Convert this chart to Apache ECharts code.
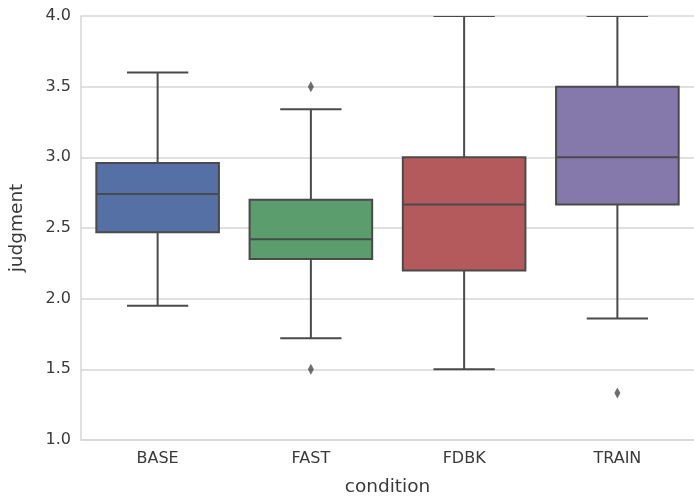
<!DOCTYPE html>
<html>
<head>
<meta charset="utf-8">
<script src="https://cdn.jsdelivr.net/npm/echarts@6/dist/echarts.min.js"></script>
<style>
  html, body { margin: 0; padding: 0; background: #fff; }
  #chart { width: 694px; height: 502px; }
</style>
</head>
<body>
<div id="chart"></div>
<script>
// categories on x
var categories = ['BASE', 'FAST', 'FDBK', 'TRAIN'];
// box stats
var whiskerLow = [1.95, 1.72, 1.5, 1.86];
var q1 = [2.47, 2.28, 2.2, 2.667];
var median = [2.74, 2.42, 2.667, 3.0];
var q3 = [2.96, 2.7, 3.0, 3.5];
var whiskerHigh = [3.6, 3.34, 4.0, 4.0];
// fliers: [category index, value]
var outliers = [[1, 3.5], [1, 1.5], [3, 1.333]];
var boxColors = ['#5470a5', '#5b9d6c', '#b45a5d', '#8479aa'];

var lineColor = '#4a4a4a';
var textColor = '#3a3a3a';
var gridColor = '#d6d6d6';

var boxData = categories.map(function (c, i) {
  return [i, whiskerLow[i], q1[i], median[i], q3[i], whiskerHigh[i]];
});

function renderBox(params, api) {
  var idx = api.value(0);
  var band = api.size([1, 0])[0];
  var boxW = band * 0.8;
  var capW = boxW * 0.5;
  var x = api.coord([idx, 0])[0];
  var yLow = api.coord([idx, api.value(1)])[1];
  var yQ1 = api.coord([idx, api.value(2)])[1];
  var yMed = api.coord([idx, api.value(3)])[1];
  var yQ3 = api.coord([idx, api.value(4)])[1];
  var yHigh = api.coord([idx, api.value(5)])[1];
  var stroke = { stroke: lineColor, lineWidth: 2 };
  return {
    type: 'group',
    children: [
      { type: 'line', shape: { x1: x, y1: yQ1, x2: x, y2: yLow }, style: stroke },
      { type: 'line', shape: { x1: x, y1: yQ3, x2: x, y2: yHigh }, style: stroke },
      { type: 'line', shape: { x1: x - capW / 2, y1: yLow, x2: x + capW / 2, y2: yLow }, style: stroke },
      { type: 'line', shape: { x1: x - capW / 2, y1: yHigh, x2: x + capW / 2, y2: yHigh }, style: stroke },
      {
        type: 'rect',
        shape: { x: x - boxW / 2, y: yQ3, width: boxW, height: yQ1 - yQ3 },
        style: { fill: boxColors[idx], stroke: lineColor, lineWidth: 2 }
      },
      { type: 'line', shape: { x1: x - boxW / 2, y1: yMed, x2: x + boxW / 2, y2: yMed }, style: stroke }
    ]
  };
}

var myChart = echarts.init(document.getElementById('chart'));
var option = {
  animation: false,
  backgroundColor: '#fff',
  grid: { left: 80, top: 16, bottom: 60, width: 620 },
  xAxis: {
    type: 'category',
    data: categories,
    name: 'condition',
    nameLocation: 'middle',
    nameGap: 38,
    nameTextStyle: { fontFamily: 'DejaVu Sans', fontSize: 18.5, color: textColor },
    axisLine: { show: true, lineStyle: { color: gridColor, width: 1.5 } },
    axisTick: { show: false },
    axisLabel: { margin: 11, fontFamily: 'DejaVu Sans', fontSize: 16, color: textColor },
    splitLine: { show: false }
  },
  yAxis: {
    type: 'value',
    min: 1,
    max: 4,
    interval: 0.5,
    name: 'judgment',
    nameLocation: 'middle',
    nameGap: 54,
    nameTextStyle: { fontFamily: 'DejaVu Sans', fontSize: 18.5, color: textColor },
    axisLine: { show: true, lineStyle: { color: gridColor, width: 1.5 } },
    axisTick: { show: false },
    axisLabel: {
      margin: 10,
      fontFamily: 'DejaVu Sans',
      fontSize: 16,
      color: textColor,
      formatter: function (v) { return v.toFixed(1); }
    },
    splitLine: { show: true, lineStyle: { color: gridColor, width: 1.5 } }
  },
  series: [
    {
      type: 'custom',
      renderItem: renderBox,
      data: boxData,
      clip: true,
      encode: { x: 0, y: [1, 2, 3, 4, 5] }
    },
    {
      type: 'scatter',
      data: outliers,
      symbol: 'diamond',
      symbolSize: [6, 11],
      itemStyle: { color: lineColor }
    }
  ]
};
myChart.setOption(option);
</script>
</body>
</html>
